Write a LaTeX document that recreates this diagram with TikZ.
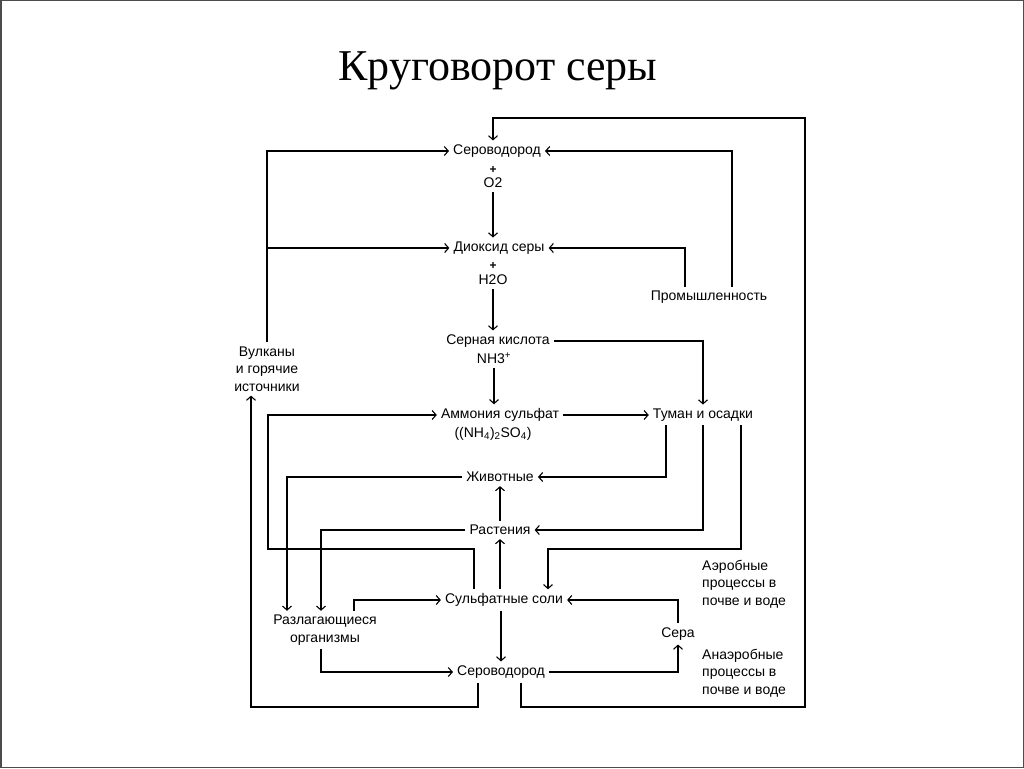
\documentclass[tikz,border=0pt]{standalone}
\usepackage{fontspec}
\setmainfont{Liberation Sans}
\newfontfamily\titlefont{Liberation Serif}
\usetikzlibrary{arrows.meta, positioning}

\tikzset{
  lbl/.style={inner sep=4pt, font=\fontsize{14}{17.5}\selectfont, align=center},
  plus/.style={inner sep=0pt, font=\fontsize{12}{12}\selectfont\bfseries},
  note/.style={lbl, align=left, anchor=west},
  flow/.style={line width=1.1pt, -{Straight Barb[length=4pt,width=9pt]}},
}

\begin{document}
\begin{tikzpicture}[x=1pt, y=-1pt]
  \useasboundingbox (0,0) rectangle (1024,768);
  \draw[gray!60!black, line width=1.5pt] (0.75,0.75) rectangle (1023.25,767.25);

  \node[font=\fontsize{44}{48}\selectfont\titlefont, anchor=base] (title) at (498,80) {Круговорот серы};

  % central column
  \node[lbl] (h2st) at (497,151) {Сероводород};
  \node[plus] (plus1) at (493,170) {+};
  \node[lbl] (o2) at (493,183) {O2};
  \node[lbl] (diox) at (499,248) {Диоксид серы};
  \node[plus] (plus2) at (493,266) {+};
  \node[lbl] (h2o) at (493,280) {H2O};
  \node[lbl] (acid) at (498,341) {Серная кислота};
  \node[lbl] (nh3) at (494,358) {NH3\textsuperscript{+}};
  \node[lbl] (amm) at (500,415) {Аммония сульфат};
  \node[lbl] (ammf) at (493,434) {((NH\textsubscript{4})\textsubscript{2}SO\textsubscript{4})};
  \node[lbl] (anim) at (500,477) {Животные};
  \node[lbl] (plant) at (500,530) {Растения};
  \node[lbl] (salt) at (504,600) {Сульфатные соли};
  \node[lbl] (h2sb) at (501,672) {Сероводород};

  % sides
  \node[lbl] (prom) at (709,297) {Промышленность};
  \node[lbl] (vulk) at (267,369) {Вулканы\\и горячие\\источники};
  \node[lbl] (tuman) at (703,415) {Туман и осадки};
  \node[lbl] (decay) at (325,630) {Разлагающиеся\\организмы};
  \node[lbl] (sera) at (678,634) {Сера};
  \node[note] (aer) at (698,584) {Аэробные\\процессы в\\почве и воде};
  \node[note] (anaer) at (698,673) {Анаэробные\\процессы в\\почве и воде};

  % bend points
  \coordinate (topr) at (805,118);
  \coordinate (botr) at (805,707);
  \coordinate (botl) at (251,707);
  \coordinate (lvl) at (268,549);
  \coordinate (t3) at ([xshift=38pt]tuman.south);
  \coordinate (s1) at ([xshift=-30pt]salt.north);
  \coordinate (s2) at ([xshift=44pt]salt.north);

  % down the column
  \draw[flow] (o2.south) -- (o2.south |- diox.north);
  \draw[flow] (h2o.south) -- (h2o.south |- acid.north);
  \draw[flow] (nh3.south) -- (nh3.south |- amm.north);
  \draw[flow] (plant.north) -- (anim.south);
  \draw[flow] (salt.north -| plant) -- (plant.south);
  \draw[flow] (salt.south -| h2sb) -- (h2sb.north);

  % volcanoes and industry
  \draw[flow] (vulk.north) |- (h2st.west);
  \draw[flow] (vulk.north) |- (diox.west);
  \draw[flow] ([xshift=-24pt]prom.north) |- (diox.east);
  \draw[flow] ([xshift=23pt]prom.north) |- (h2st.east);

  % fog and rain
  \draw[flow] (acid.east) -| (tuman.north);
  \draw[flow] (amm.east) -- (amm.east -| tuman.west);
  \draw[flow] ([xshift=-37pt]tuman.south) |- (anim.east);
  \draw[flow] (tuman.south) |- (plant.east);
  \draw[flow] (t3) -- (t3 |- lvl) -| (s2);

  % left loops
  \draw[flow] (s1) |- (lvl) |- (amm.west);
  \draw[flow] (anim.west) -| ([xshift=-38pt]decay.north);
  \draw[flow] (plant.west) -| ([xshift=-4pt]decay.north);
  \draw[flow] ([xshift=29pt]decay.north) |- (salt.west);
  \draw[flow] ([xshift=-4pt]decay.south) |- (h2sb.west);

  % soil and water
  \draw[flow] (h2sb.east) -| (sera.south);
  \draw[flow] (sera.north) |- (salt.east);

  % outer loops
  \draw[flow] ([xshift=20pt]h2sb.south) |- (botr) -- (topr) -| ([xshift=-4pt]h2st.north);
  \draw[flow] ([xshift=-23pt]h2sb.south) |- (botl) -- (botl |- vulk.south);
\end{tikzpicture}
\end{document}
